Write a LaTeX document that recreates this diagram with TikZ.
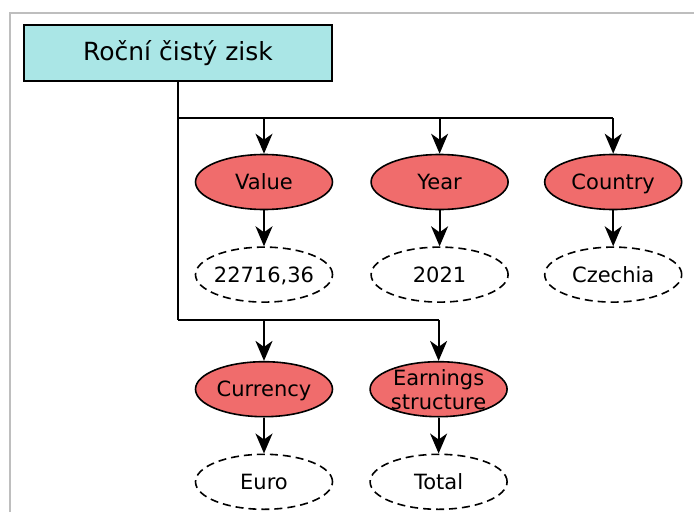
\documentclass[tikz,border=0pt]{standalone}
\usepackage{fontspec}
\setmainfont{DejaVu Sans}
\usetikzlibrary{arrows.meta,positioning,shapes.geometric}
\definecolor{headcyan}{RGB}{170,230,230}
\definecolor{attrred}{RGB}{240,108,108}
\definecolor{framegray}{RGB}{190,190,190}
\tikzset{
  headbox/.style={draw, line width=1.8pt, minimum height=56pt, minimum width=308pt, align=center, fill=headcyan, font=\fontsize{25}{28}\selectfont},
  attr/.style={ellipse, draw, line width=1.6pt, minimum height=55pt, minimum width=137pt, inner sep=-8pt, text height=15pt, text depth=0pt, align=center, fill=attrred, font=\fontsize{21}{24}\selectfont},
  valnode/.style={ellipse, draw, line width=1.6pt, dash pattern=on 8pt off 5pt, minimum height=55pt, minimum width=137pt, inner sep=-8pt, text height=15pt, text depth=0pt, align=center, fill=white, font=\fontsize{21}{24}\selectfont},
  line/.style={-{Stealth[length=20pt, width=17pt, inset=6pt]}, line width=1.8pt}
}
\begin{document}
\begin{tikzpicture}[x=1pt, y=1pt, node distance=36pt and 37pt]
  \useasboundingbox (0,0) rectangle (694,-512);
  \draw[framegray, line width=1.5pt] (10,-512) -- (10,-13) -- (694,-13);

  \node[headbox] (head) at (178,-53) {Roční čistý zisk};
  \node[attr] (value) at (264,-182) {Value};
  \node[attr, right=of value] (year) {Year};
  \node[attr, right=35pt of year] (country) {Country};
  \node[valnode, below=of value] (valnum) {22716,36};
  \node[valnode, below=of year] (yearnum) {2021};
  \node[valnode, below=of country] (czechia) {Czechia};
  \node[attr, below=58pt of valnum] (currency) {Currency};
  \node[attr, right=36pt of currency, text height={}, text depth={}] (structure) {Earnings\\structure};
  \node[valnode, below=of currency] (euro) {Euro};
  \node[valnode, below=of structure] (total) {Total};

  \coordinate (split1) at (178,-118);
  \coordinate (split2) at (178,-320);

  \draw[line width=1.8pt] (head.south) -- (split2);
  \draw[line width=1.8pt] (split1) -- (split1 -| country);
  \draw[line width=1.8pt] (split2) -- (split2 -| structure);
  \draw[line] (split1 -| value) -- (value);
  \draw[line] (split1 -| year) -- (year);
  \draw[line] (split1 -| country) -- (country);
  \draw[line] (split2 -| currency) -- (currency);
  \draw[line] (split2 -| structure) -- (structure);
  \draw[line] (value) -- (valnum);
  \draw[line] (year) -- (yearnum);
  \draw[line] (country) -- (czechia);
  \draw[line] (currency) -- (euro);
  \draw[line] (structure) -- (total);
\end{tikzpicture}
\end{document}
